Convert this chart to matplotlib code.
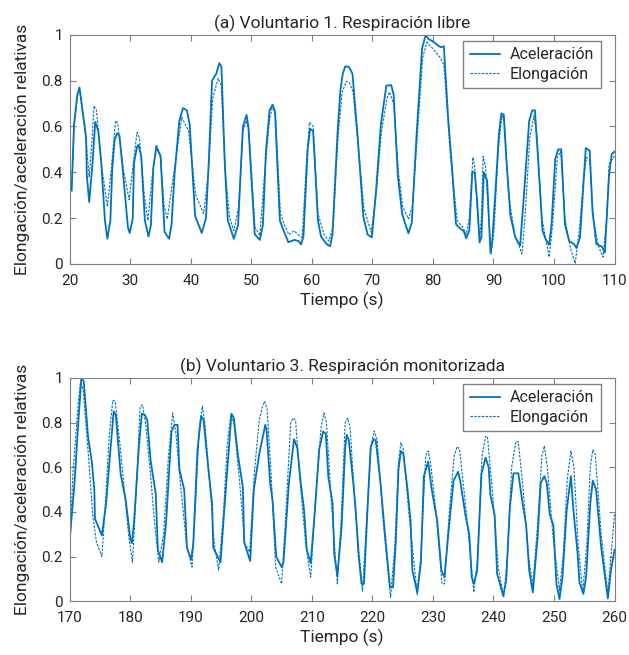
import numpy as np
import matplotlib
matplotlib.use('Agg')
import matplotlib.pyplot as plt

plt.rcParams['font.family'] = ['Roboto', 'DejaVu Sans']

# (a) Voluntario 1 - aceleracion (linea continua)
t_acc_a = [20.3, 20.7, 21.25, 21.6, 22.7, 22.8, 23.2, 23.75, 24.2, 24.7, 25.2, 25.8, 26.2, 26.7, 27.0, 27.4,
           27.8, 28.2, 28.75, 29.6, 29.9, 30.4, 30.6, 31.1, 31.35, 31.8, 32.4, 33.0, 33.4, 33.8, 34.3, 35.0,
           35.65, 36.4, 36.8, 37.3, 38.1, 38.7, 39.35, 39.8, 40.7, 41.8, 42.5, 43.0, 43.5, 44.2, 44.7, 45.05,
           45.6, 46.1, 47.1, 47.8, 48.6, 49.2, 49.5, 50.55, 51.4, 51.9, 52.4, 53.0, 53.5, 53.9, 54.7, 55.4,
           56.1, 57.1, 57.8, 58.2, 58.6, 59.3, 59.7, 60.2, 61.0, 61.5, 62.4, 63.0, 63.4, 64.25, 64.7, 65.1,
           65.5, 66.1, 66.7, 67.6, 68.5, 69.2, 69.9, 70.6, 71.4, 72.3, 73.1, 73.5, 74.2, 74.9, 75.4, 75.95,
           76.5, 77.3, 78.2, 78.8, 79.3, 79.8, 80.7, 81.3, 81.8, 82.5, 83.15, 83.8, 84.25, 85.1, 85.5, 86.0,
           86.5, 86.9, 87.3, 87.7, 88.0, 88.4, 88.95, 89.5, 89.8, 90.4, 90.9, 91.3, 91.7, 92.1, 92.8, 93.6,
           94.4, 95.0, 95.9, 96.4, 96.85, 97.35, 98.1, 98.6, 99.2, 99.6, 100.2, 100.7, 101.2, 101.8, 102.5,
           103.3, 103.7, 104.3, 104.8, 105.25, 105.9, 106.35, 107.0, 107.9, 108.4, 109.1, 109.55, 110.0]
acc_a = [0.32, 0.61, 0.74, 0.77, 0.55, 0.39, 0.27, 0.44, 0.62, 0.58, 0.44, 0.19, 0.11, 0.19, 0.41, 0.54,
         0.57, 0.56, 0.41, 0.16, 0.135, 0.20, 0.44, 0.51, 0.52, 0.47, 0.19, 0.12, 0.17, 0.42, 0.51, 0.47,
         0.14, 0.11, 0.17, 0.39, 0.625, 0.68, 0.67, 0.61, 0.21, 0.135, 0.20, 0.47, 0.80, 0.83, 0.876, 0.86,
         0.44, 0.19, 0.11, 0.17, 0.60, 0.65, 0.60, 0.13, 0.105, 0.17, 0.49, 0.67, 0.695, 0.665, 0.19, 0.14,
         0.095, 0.105, 0.10, 0.085, 0.12, 0.50, 0.59, 0.58, 0.19, 0.12, 0.087, 0.077, 0.13, 0.58, 0.755, 0.83,
         0.862, 0.86, 0.83, 0.54, 0.206, 0.128, 0.116, 0.32, 0.61, 0.778, 0.78, 0.74, 0.385, 0.22, 0.177, 0.134,
         0.18, 0.567, 0.94, 1.0, 0.98, 0.974, 0.956, 0.945, 0.95, 0.64, 0.42, 0.174, 0.16, 0.142, 0.112, 0.145,
         0.40, 0.40, 0.276, 0.094, 0.116, 0.40, 0.363, 0.05, 0.10, 0.35, 0.567, 0.657, 0.651, 0.465, 0.21, 0.116,
         0.08, 0.29, 0.625, 0.67, 0.67, 0.465, 0.145, 0.11, 0.084, 0.174, 0.458, 0.50, 0.50, 0.174, 0.10,
         0.087, 0.07, 0.116, 0.32, 0.506, 0.494, 0.233, 0.087, 0.076, 0.05, 0.39, 0.48, 0.49]

# (a) Voluntario 1 - elongacion (linea de puntos)
t_elo_a = [20.3, 20.7, 21.3, 21.6, 22.6, 23.2, 23.7, 24.0, 24.4, 25.3, 26.2, 26.8, 27.55, 27.9, 28.8, 29.8,
           30.5, 31.1, 31.5, 32.3, 32.9, 33.6, 34.3, 34.9, 35.6, 36.1, 37.2, 38.5, 39.6, 40.8, 42.1, 42.9,
           43.6, 44.5, 45.0, 45.7, 46.4, 47.1, 47.9, 48.6, 49.2, 49.6, 50.6, 51.4, 52.2, 53.0, 53.5, 54.0,
           54.8, 55.4, 56.2, 57.1, 57.6, 58.4, 59.1, 59.6, 60.2, 61.0, 62.0, 62.8, 63.5, 64.3, 65.0, 65.7,
           66.2, 66.8, 67.7, 68.6, 69.8, 70.6, 71.5, 72.4, 72.8, 73.5, 74.3, 75.0, 75.95, 76.6, 77.4, 78.3,
           79.0, 79.8, 81.2, 81.8, 82.9, 84.0, 84.9, 85.5, 86.0, 86.6, 86.9, 87.3, 87.7, 88.0, 88.3, 88.7,
           89.1, 89.6, 90.1, 90.8, 91.4, 91.8, 92.5, 93.5, 94.7, 95.2, 96.0, 96.7, 97.2, 98.0, 99.2, 99.8,
           100.55, 101.1, 101.8, 102.7, 103.5, 104.2, 104.9, 105.4, 105.9, 106.5, 107.3, 108.1, 108.7, 109.1, 110.0]
elo_a = [0.32, 0.60, 0.74, 0.76, 0.56, 0.38, 0.55, 0.69, 0.67, 0.42, 0.25, 0.40, 0.625, 0.615, 0.42, 0.28,
         0.44, 0.574, 0.55, 0.30, 0.19, 0.38, 0.52, 0.48, 0.25, 0.196, 0.40, 0.64, 0.58, 0.30, 0.22, 0.40,
         0.72, 0.81, 0.78, 0.40, 0.20, 0.145, 0.25, 0.58, 0.625, 0.58, 0.16, 0.124, 0.40, 0.63, 0.69, 0.64,
         0.22, 0.174, 0.128, 0.145, 0.13, 0.116, 0.45, 0.618, 0.60, 0.22, 0.13, 0.10, 0.16, 0.55, 0.75, 0.797,
         0.79, 0.75, 0.50, 0.24, 0.138, 0.30, 0.58, 0.72, 0.75, 0.70, 0.40, 0.25, 0.196, 0.25, 0.55, 0.90,
         0.967, 0.945, 0.90, 0.87, 0.465, 0.19, 0.16, 0.13, 0.20, 0.465, 0.42, 0.25, 0.11, 0.20, 0.47, 0.42,
         0.25, 0.044, 0.15, 0.50, 0.647, 0.62, 0.30, 0.13, 0.044, 0.20, 0.55, 0.647, 0.55, 0.20, 0.03, 0.18,
         0.465, 0.49, 0.20, 0.07, 0.003, 0.15, 0.38, 0.465, 0.45, 0.20, 0.08, 0.03, 0.20, 0.436, 0.47]

# (b) Voluntario 3 - aceleracion
t_acc_b = [170.0, 170.8, 171.4, 171.9, 172.3, 173.0, 173.65, 174.05, 174.15, 175.3, 176.0, 176.65, 177.25,
           177.6, 178.4, 179.25, 180.0, 180.25, 180.6, 181.4, 181.9, 182.4, 182.8, 183.35, 184.2, 184.55,
           185.25, 185.9, 186.8, 187.3, 187.8, 188.1, 188.9, 189.35, 190.05, 190.4, 191.1, 191.7, 192.1,
           192.9, 193.5, 193.7, 194.9, 195.6, 196.3, 196.7, 197.1, 197.8, 198.6, 198.8, 199.8, 200.4, 201.3,
           202.3, 202.5, 203.1, 203.5, 204.1, 205.0, 205.3, 206.2, 207.05, 207.6, 208.15, 208.7, 209.15,
           209.8, 210.5, 211.2, 211.85, 212.3, 212.7, 213.4, 213.7, 214.2, 214.9, 215.5, 215.75, 216.1, 216.8,
           217.2, 217.7, 218.2, 218.6, 219.2, 219.7, 220.2, 220.55, 221.3, 222.2, 222.9, 223.4, 223.85, 224.3,
           224.7, 225.1, 225.8, 226.3, 226.6, 227.4, 228.0, 228.5, 229.2, 229.8, 230.7, 231.4, 231.9, 232.6,
           233.4, 234.15, 234.5, 235.4, 236.0, 236.4, 236.75, 237.3, 238.0, 238.7, 239.2, 239.5, 240.2, 240.6,
           241.6, 242.1, 242.7, 243.3, 244.1, 244.8, 245.4, 245.9, 246.5, 247.3, 247.8, 248.4, 248.8, 249.3,
           249.9, 250.4, 250.9, 251.4, 252.1, 252.8, 253.2, 253.9, 254.2, 254.85, 255.3, 256.0, 256.4, 256.95,
           257.8, 258.3, 258.9, 259.4, 260.0]
acc_b = [0.28, 0.54, 0.80, 1.0, 0.985, 0.74, 0.62, 0.50, 0.37, 0.295, 0.44, 0.66, 0.85,
         0.835, 0.57, 0.45, 0.28, 0.26, 0.35, 0.69, 0.84, 0.835, 0.81, 0.63, 0.48, 0.23,
         0.175, 0.35, 0.76, 0.79, 0.79, 0.59, 0.50, 0.24, 0.186, 0.26, 0.68, 0.83, 0.81,
         0.59, 0.44, 0.24, 0.175, 0.44, 0.69, 0.84, 0.82, 0.65, 0.51, 0.265, 0.18, 0.50, 0.66,
         0.79, 0.77, 0.53, 0.45, 0.20, 0.153, 0.175, 0.53, 0.726, 0.685, 0.53, 0.41, 0.23,
         0.17, 0.41, 0.68, 0.76, 0.75, 0.56, 0.44, 0.21, 0.115, 0.33, 0.69, 0.745, 0.72, 0.54,
         0.42, 0.21, 0.078, 0.078, 0.42, 0.69, 0.726, 0.72, 0.54, 0.26, 0.063, 0.063, 0.26, 0.59,
         0.673, 0.66, 0.50, 0.36, 0.138, 0.04, 0.17, 0.56, 0.625, 0.50, 0.36, 0.138, 0.108, 0.32,
         0.54, 0.58, 0.54, 0.38, 0.30, 0.108, 0.078, 0.138, 0.57, 0.643, 0.60, 0.475, 0.385, 0.123,
         0.025, 0.093, 0.42, 0.573, 0.573, 0.44, 0.34, 0.138, 0.04, 0.29, 0.53, 0.56, 0.53, 0.39,
         0.34, 0.078, 0.01, 0.108, 0.41, 0.56, 0.41, 0.213, 0.085, 0.033, 0.108, 0.44, 0.54, 0.50,
         0.24, 0.138, 0.013, 0.138, 0.23]

# (b) Voluntario 3 - elongacion
t_elo_b = [170.0, 170.5, 171.4, 171.75, 172.2, 173.0, 173.8, 174.4, 175.3, 175.9, 176.5, 177.1, 177.5, 178.3,
           179.0, 179.7, 180.35, 181.0, 181.6, 182.0, 182.5, 183.3, 184.0, 184.7, 185.5, 186.3, 187.0, 187.5,
           188.3, 189.3, 190.2, 190.8, 191.4, 191.9, 192.3, 193.2, 193.9, 194.6, 195.4, 196.0, 196.6, 197.1,
           198.0, 198.9, 199.7, 200.5, 201.3, 201.8, 202.2, 202.6, 203.3, 204.0, 205.0, 205.6, 206.5, 206.9,
           207.3, 208.0, 209.0, 209.8, 210.6, 211.5, 212.0, 212.4, 213.2, 214.2, 214.8, 215.5, 215.9, 216.3,
           217.2, 218.35, 219.0, 219.8, 220.3, 220.8, 221.8, 223.0, 223.7, 224.3, 224.7, 225.1, 226.0, 227.4,
           228.0, 228.8, 229.2, 229.6, 230.5, 231.5, 231.9, 232.7, 233.5, 234.0, 234.4, 235.5, 236.75, 237.4,
           238.1, 238.7, 239.0, 239.8, 240.8, 241.7, 242.3, 243.0, 243.7, 244.1, 244.9, 245.8, 246.5, 247.3,
           248.0, 248.4, 248.9, 249.8, 250.9, 251.5, 252.2, 252.8, 253.3, 254.0, 254.75, 255.4, 256.0, 256.4,
           256.8, 257.8, 258.9, 259.4, 260.0]
elo_b = [0.24, 0.57, 0.89, 0.98, 0.95, 0.68, 0.38, 0.265, 0.20, 0.45, 0.74, 0.90, 0.895, 0.70,
         0.50, 0.30, 0.175, 0.50, 0.87, 0.88, 0.80, 0.58, 0.35, 0.175, 0.30, 0.65, 0.843, 0.76,
         0.52, 0.25, 0.153, 0.45, 0.78, 0.873, 0.80, 0.50, 0.25, 0.14, 0.40, 0.70, 0.835, 0.80,
         0.55, 0.26, 0.22, 0.58, 0.81, 0.87, 0.895, 0.86, 0.55, 0.153, 0.078, 0.35, 0.80, 0.82,
         0.81, 0.55, 0.25, 0.108, 0.45, 0.775, 0.843, 0.80, 0.45, 0.078, 0.35, 0.80, 0.82, 0.78,
         0.40, 0.045, 0.35, 0.70, 0.763, 0.72, 0.35, 0.018, 0.25, 0.62, 0.71, 0.68, 0.40, 0.03,
         0.20, 0.65, 0.673, 0.62, 0.40, 0.078, 0.078, 0.40, 0.65, 0.693, 0.68, 0.40, 0.04, 0.20,
         0.65, 0.738, 0.738, 0.50, 0.15, 0.02, 0.20, 0.60, 0.715, 0.715, 0.50, 0.20, 0.07, 0.35,
         0.65, 0.696, 0.60, 0.30, 0.048, 0.20, 0.55, 0.673, 0.60, 0.25, 0.04, 0.25, 0.60, 0.678,
         0.66, 0.30, 0.033, 0.20, 0.39]

titles = ['(a) Voluntario 1. Respiración libre', '(b) Voluntario 3. Respiración monitorizada']
xticks_a = [20, 30, 40, 50, 60, 70, 80, 90, 100, 110]
xticks_b = [170, 180, 190, 200, 210, 220, 230, 240, 250, 260]
yticks = [0, 0.2, 0.4, 0.6, 0.8, 1]
ytick_labels = ['0', '0.2', '0.4', '0.6', '0.8', '1']

blue = '#0072BD'
grey = '#808080'
txt = '#262626'

fig = plt.figure(figsize=(6.29, 6.55), dpi=100)
ax1 = fig.add_axes([0.111, 0.597, 0.866, 0.350])
ax2 = fig.add_axes([0.111, 0.082, 0.866, 0.341])

panels = [(ax1, t_acc_a, acc_a, t_elo_a, elo_a, xticks_a, titles[0]),
          (ax2, t_acc_b, acc_b, t_elo_b, elo_b, xticks_b, titles[1])]

for ax, ta, a, te, e, xt, title in panels:
    ax.plot(ta, a, color=blue, lw=1.3, label='Aceleración')
    ax.plot(te, e, color=blue, lw=0.8, linestyle=(0, (2.2, 1.2)), label='Elongación')
    ax.set_xlim(xt[0], xt[-1])
    ax.set_ylim(0, 1)
    ax.set_xticks(xt)
    ax.set_yticks(yticks)
    ax.set_yticklabels(ytick_labels)
    ax.tick_params(direction='in', top=True, right=True, length=4, width=0.8,
                   colors=grey, labelcolor=txt, labelsize=11)
    ax.tick_params(axis='x', pad=7)
    ax.tick_params(axis='y', pad=5)
    for s in ax.spines.values():
        s.set_color(grey)
        s.set_linewidth(0.8)
    ax.set_title(title, fontsize=12.5, color=txt, pad=5)
    ax.set_xlabel('Tiempo (s)', fontsize=12.5, color=txt, labelpad=3)
    ax.set_ylabel('Elongación/aceleración relativas', fontsize=12.5, color=txt, labelpad=8)
    leg = ax.legend(loc='upper right', bbox_to_anchor=(1 - 14 / 545, 1 - 6 / 229),
                    borderaxespad=0, fontsize=11.5, fancybox=False, framealpha=1,
                    edgecolor=grey, handlelength=1.9, handletextpad=0.6, labelspacing=0.3)
    for t in leg.get_texts():
        t.set_color(txt)

fig.savefig('out.png', dpi=100)
